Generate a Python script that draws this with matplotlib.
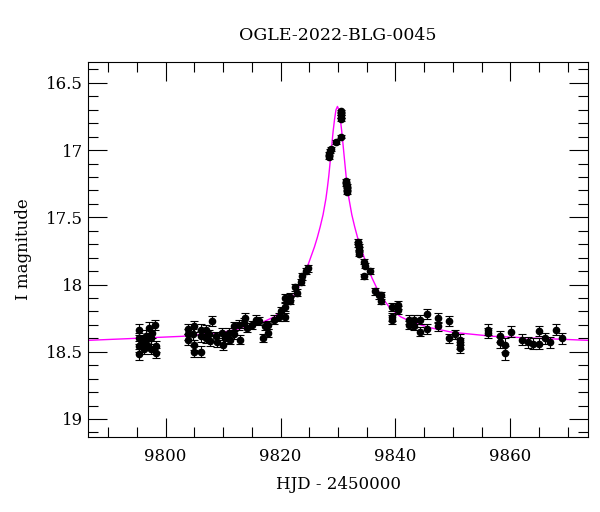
import numpy as np
import matplotlib
matplotlib.use("Agg")
import matplotlib.pyplot as plt
from matplotlib.ticker import MultipleLocator

# OGLE photometry (HJD - 2450000, I mag, error)
hjd = [9795.3, 9795.4, 9795.4, 9795.4, 9795.8, 9796.2, 9796.2, 9796.6, 9796.8, 9797.1,
       9797.4, 9797.4, 9797.7, 9798.1, 9798.4, 9798.3,
       9803.9, 9803.9, 9803.9, 9804.8, 9805.0, 9805.0, 9805.0, 9806.1, 9806.1, 9806.1,
       9807.0, 9807.0, 9808.1, 9807.5, 9807.8, 9808.7, 9809.0, 9809.9, 9810.0, 9810.4,
       9811.0, 9811.2, 9811.9, 9811.9, 9812.75, 9812.9, 9813.6, 9813.9, 9814.2,
       9815.0, 9815.65, 9816.2, 9816.9, 9817.3, 9817.9, 9817.9, 9818.8, 9819.7, 9820.0,
       9820.75, 9820.75, 9820.75, 9821.7, 9821.7, 9822.6, 9822.8, 9823.5, 9823.8, 9824.35,
       9824.8,
       9828.4, 9828.5, 9828.6, 9828.7, 9829.7, 9830.6, 9830.45, 9830.5, 9830.55, 9830.6,
       9831.4, 9831.45, 9831.5, 9831.55, 9831.6,
       9833.5, 9833.55, 9833.6, 9833.65, 9833.7, 9834.5, 9834.7, 9834.6, 9835.5, 9836.5,
       9837.1, 9837.4, 9837.4, 9839.4, 9839.4, 9839.4, 9840.4, 9840.4, 9842.3, 9842.3,
       9843.3, 9843.3, 9844.3, 9844.3, 9845.4, 9845.4, 9847.4, 9847.4, 9849.3, 9849.3,
       9850.3, 9851.2, 9851.2, 9851.2,
       9856.1, 9856.1, 9858.2, 9858.2, 9859.1, 9859.1, 9860.1, 9862.0, 9863.0, 9863.95,
       9864.9, 9864.9, 9865.95, 9866.96, 9867.95, 9868.9]
mag = [18.52, 18.46, 18.40, 18.335, 18.44, 18.42, 18.48, 18.38, 18.45, 18.32,
       18.40, 18.48, 18.36, 18.30, 18.46, 18.51,
       18.33, 18.37, 18.41, 18.37, 18.31, 18.45, 18.50, 18.50, 18.335, 18.385,
       18.335, 18.40, 18.27, 18.37, 18.42, 18.385, 18.43, 18.36, 18.45, 18.40,
       18.36, 18.41, 18.31, 18.37, 18.30, 18.41, 18.285, 18.25, 18.32,
       18.30, 18.26, 18.27, 18.40, 18.31, 18.36, 18.30, 18.26, 18.24, 18.20,
       18.24, 18.17, 18.10, 18.09, 18.12, 18.02, 18.06, 17.98, 17.94, 17.90,
       17.88,
       17.05, 17.03, 17.01, 16.99, 16.94, 16.90, 16.71, 16.73, 16.75, 16.77,
       17.23, 17.25, 17.27, 17.29, 17.31,
       17.68, 17.70, 17.72, 17.74, 17.77, 17.83, 17.86, 17.94, 17.90, 18.05,
       18.08, 18.08, 18.12, 18.17, 18.24, 18.26, 18.15, 18.19, 18.26, 18.30,
       18.26, 18.31, 18.26, 18.35, 18.22, 18.33, 18.25, 18.31, 18.27, 18.40,
       18.37, 18.41, 18.44, 18.47,
       18.335, 18.36, 18.385, 18.43, 18.45, 18.51, 18.35, 18.41, 18.43, 18.44,
       18.44, 18.345, 18.40, 18.43, 18.335, 18.40]
err = [0.04, 0.04, 0.04, 0.04, 0.04, 0.04, 0.04, 0.04, 0.04, 0.04,
       0.04, 0.04, 0.04, 0.04, 0.04, 0.04,
       0.04, 0.04, 0.04, 0.04, 0.04, 0.04, 0.04, 0.04, 0.04, 0.04,
       0.035, 0.035, 0.035, 0.035, 0.035, 0.035, 0.035, 0.035, 0.035, 0.035,
       0.035, 0.035, 0.035, 0.035, 0.035, 0.035, 0.035, 0.035, 0.035,
       0.03, 0.03, 0.03, 0.03, 0.03, 0.03, 0.03, 0.03, 0.03, 0.03,
       0.03, 0.03, 0.03, 0.025, 0.025, 0.025, 0.025, 0.025, 0.025, 0.025,
       0.025,
       0.015, 0.015, 0.015, 0.015, 0.012, 0.012, 0.012, 0.012, 0.012, 0.012,
       0.015, 0.015, 0.015, 0.015, 0.015,
       0.02, 0.02, 0.02, 0.02, 0.02, 0.02, 0.02, 0.02, 0.02, 0.025,
       0.025, 0.025, 0.025, 0.03, 0.03, 0.03, 0.03, 0.03, 0.03, 0.03,
       0.03, 0.03, 0.03, 0.035, 0.035, 0.035, 0.035, 0.035, 0.035, 0.035,
       0.035, 0.04, 0.04, 0.04,
       0.04, 0.04, 0.04, 0.04, 0.05, 0.05, 0.04, 0.04, 0.04, 0.04,
       0.04, 0.04, 0.04, 0.04, 0.04, 0.04]

# model light curve
model_hjd = [9786.5, 9794.9, 9802.9, 9809.9, 9813.9, 9816.9, 9818.9, 9820.65, 9821.9, 9822.9,
             9823.9, 9824.9, 9825.9, 9826.4, 9826.9, 9827.4, 9827.9, 9828.15, 9828.4,
             9828.65, 9828.9, 9829.15, 9829.4, 9829.65, 9829.9,
             9830.15, 9830.4, 9830.65, 9830.9, 9831.15, 9831.4, 9831.65, 9831.9, 9832.4,
             9832.9, 9833.4, 9833.9, 9834.9, 9835.9, 9836.9, 9837.9, 9839.15, 9840.9,
             9842.9, 9845.9, 9849.9, 9856.9, 9864.9, 9873.5]
model_mag = [18.415, 18.40, 18.385, 18.355, 18.32, 18.28, 18.24, 18.18, 18.11, 18.04,
             17.95, 17.84, 17.72, 17.65, 17.57, 17.48, 17.36, 17.28, 17.19,
             17.08, 16.97, 16.86, 16.77, 16.70, 16.675,
             16.70, 16.77, 16.86, 16.97, 17.08, 17.19, 17.28, 17.36, 17.48,
             17.57, 17.65, 17.72, 17.84, 17.95, 18.04, 18.11, 18.18, 18.24,
             18.28, 18.32, 18.355, 18.385, 18.40, 18.415]

plt.rcParams['font.family'] = 'DejaVu Serif'

fig = plt.figure(figsize=(6, 5.12), dpi=100)
ax = fig.add_axes([0.1467, 0.1465, 0.8333, 0.7325])

ax.plot(model_hjd, model_mag, color='#ff00ff', lw=1.0, zorder=1)
ax.errorbar(hjd, mag, yerr=err, fmt='o', color='black', ms=4.5,
            elinewidth=0.8, capsize=3, capthick=0.8, zorder=2)

ax.set_xlim(9786.5, 9873.5)
ax.set_ylim(19.134, 16.344)

ax.xaxis.set_major_locator(MultipleLocator(20))
ax.xaxis.set_minor_locator(MultipleLocator(5))
ax.yaxis.set_major_locator(MultipleLocator(0.5))
ax.yaxis.set_minor_locator(MultipleLocator(0.1))
ax.yaxis.set_major_formatter(plt.FuncFormatter(lambda v, p: ('%g' % v)))

ax.tick_params(which='both', direction='in', top=True, right=True, width=0.8,
               labelsize=12)
ax.tick_params(which='major', length=14)
ax.tick_params(which='minor', length=7)
ax.tick_params(axis='x', pad=8)
for s in ax.spines.values():
    s.set_linewidth(0.8)

ax.set_xlabel('HJD - 2450000', fontsize=12, labelpad=8)
ax.set_ylabel('I magnitude', fontsize=12, labelpad=10)
ax.set_title('OGLE-2022-BLG-0045', fontsize=12.5, pad=16)

fig.savefig('out.png', dpi=100)
